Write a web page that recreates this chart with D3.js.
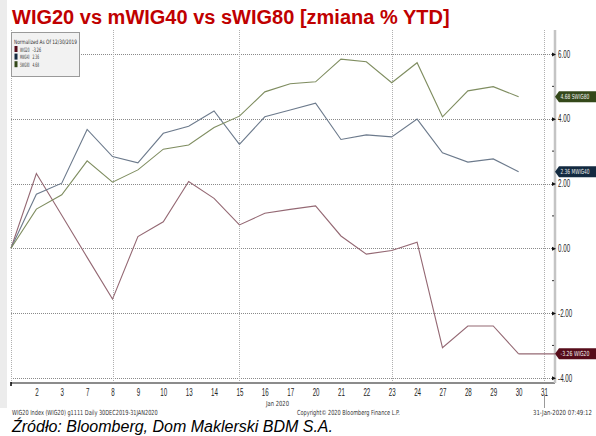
<!DOCTYPE html>
<html>
<head>
<meta charset="utf-8">
<script src="https://cdn.jsdelivr.net/npm/d3@7"></script>
<style>
  body { margin: 0; background: #fff; }
  svg { display: block; font-family: "DejaVu Sans Condensed", "DejaVu Sans", sans-serif; }
</style>
</head>
<body>
<svg id="chart" width="596" height="436"></svg>
<script>
// trading days, 30 Dec 2019 .. 31 Jan 2020
const days = ["30", "2", "3", "7", "8", "9", "10", "13", "14", "15", "16", "17",
  "20", "21", "22", "23", "24", "27", "28", "29", "30", "31"];
const gridDays = [0, 4, 9, 15, 21];

// % change YTD, normalized as of 12/30/2019
const wig20 = [0, 2.31, 1.02, -0.28, -1.57, 0.36, 0.82, 2.06, 1.54, 0.72, 1.08, 1.2,
  1.31, 0.38, -0.18, -0.07, 0.19, -3.07, -2.40, -2.40, -3.26];
const mwig40 = [0, 1.67, 2.01, 3.67, 2.83, 2.64, 3.55, 3.77, 4.24, 3.21, 4.06, 4.27,
  4.48, 3.36, 3.50, 3.44, 3.99, 2.95, 2.66, 2.76, 2.36];
const swig80 = [0, 1.21, 1.65, 2.70, 2.04, 2.42, 3.06, 3.19, 3.73, 4.08, 4.83, 5.08,
  5.14, 5.84, 5.76, 5.11, 5.73, 4.06, 4.86, 4.99, 4.68];

const seriesNames = ["WIG20", "MWIG40", "SWIG80"];
const lastValues = ["-3.26", "2.36", "4.68"];
const majorTicks = [-4, -2, 0, 2, 4, 6];
const minorTicks = [-3, -1, 1, 3, 5];

const series = [
  {name: "WIG20", values: wig20, line: "#946873", dark: "#560c1a"},
  {name: "MWIG40", values: mwig40, line: "#6c7a8c", dark: "#132a40"},
  {name: "SWIG80", values: swig80, line: "#7f8d60", dark: "#34481a"}
];

const svg = d3.select("#chart");
const plot = {left: 11, right: 555, top: 30, bottom: 383};

// squeezed Bloomberg-style small text: scaled horizontally to a given width
function narrow(parent, tx, ty, w, s, size, fill) {
  const g = parent.append("g").attr("transform", `translate(${tx},${ty})`);
  const t = g.append("text")
    .style("font-size", size + "px")
    .style("fill", fill || "#333")
    .text(s);
  const len = t.node().getComputedTextLength();
  t.attr("transform", `scale(${w / len},1)`);
  return g;
}

// light strip on the left edge
svg.append("rect")
  .attr("x", 0).attr("y", 0)
  .attr("width", 7).attr("height", 408)
  .attr("fill", "#ececec");

// title
svg.append("text")
  .attr("x", 12)
  .attr("y", 24)
  .style("font-family", "'Liberation Sans', Arial, sans-serif")
  .style("font-size", "20px")
  .style("font-weight", "bold")
  .style("fill", "#c00000")
  .text("WIG20 vs mWIG40 vs sWIG80 [zmiana % YTD]");

const x = d3.scalePoint()
  .domain(d3.range(days.length))
  .range([11, 544]);

const y = d3.scaleLinear()
  .domain([-4.16, 6.74])
  .range([plot.bottom, plot.top]);

// gridlines
const grid = svg.append("g");
grid.selectAll("line.h")
  .data(majorTicks)
  .enter()
  .append("line")
  .attr("class", "h")
  .attr("x1", plot.left)
  .attr("x2", plot.right)
  .attr("y1", d => Math.round(y(d)) + 0.5)
  .attr("y2", d => Math.round(y(d)) + 0.5)
  .attr("stroke", "#8a8a8a")
  .attr("stroke-dasharray", "1,1");

grid.selectAll("line.v")
  .data(gridDays)
  .enter()
  .append("line")
  .attr("class", "v")
  .attr("x1", d => Math.round(x(d)) + 0.5)
  .attr("x2", d => Math.round(x(d)) + 0.5)
  .attr("y1", plot.top)
  .attr("y2", plot.bottom)
  .attr("stroke", "#b0b0b0")
  .attr("stroke-dasharray", "1,1");

// bottom axis
const xAxis = svg.append("g")
  .attr("transform", `translate(0,${plot.bottom})`)
  .call(d3.axisBottom(x).tickSize(0).tickPadding(6).tickFormat(i => i === 0 ? "" : days[i]));
xAxis.select(".domain").remove();
xAxis.selectAll("text")
  .attr("transform", "scale(0.62,1)")
  .style("font-size", "10px")
  .style("fill", "#222");

svg.append("line")
  .attr("x1", plot.left).attr("x2", plot.right)
  .attr("y1", plot.bottom).attr("y2", plot.bottom)
  .attr("stroke", "#8c8c8c")
  .attr("stroke-width", 2);
svg.append("line")
  .attr("x1", plot.left).attr("x2", plot.left)
  .attr("y1", plot.bottom - 1).attr("y2", plot.bottom + 3)
  .attr("stroke", "#000")
  .attr("stroke-width", 1.5);
svg.append("line")
  .attr("x1", x(21) + 0.5).attr("x2", x(21) + 0.5)
  .attr("y1", 394).attr("y2", 408)
  .attr("stroke", "#9a9a9a");

// right axis
svg.append("line")
  .attr("x1", plot.right).attr("x2", plot.right)
  .attr("y1", plot.top).attr("y2", plot.bottom)
  .attr("stroke", "#c4c4c4")
  .attr("stroke-width", 2.5);

const yAxis = svg.append("g")
  .attr("transform", `translate(${plot.right},0)`)
  .call(d3.axisRight(y).tickValues(majorTicks).tickSize(0).tickPadding(5).tickFormat(d => d.toFixed(2)));
yAxis.select(".domain").remove();
yAxis.selectAll("text")
  .attr("transform", "scale(0.62,1)")
  .style("font-size", "10px")
  .style("fill", "#222");
yAxis.selectAll(".tick")
  .append("path")
  .attr("d", "M-3,-2L1,0L-3,2Z")
  .attr("fill", "#111");

svg.append("g")
  .selectAll("line")
  .data(minorTicks)
  .enter()
  .append("line")
  .attr("x1", plot.right - 3)
  .attr("x2", plot.right - 1)
  .attr("y1", d => y(d))
  .attr("y2", d => y(d))
  .attr("stroke", "#333");

// lines
const line = d3.line()
  .x((d, i) => x(i))
  .y(d => y(d));

svg.append("g")
  .selectAll("path")
  .data(series)
  .enter()
  .append("path")
  .attr("d", d => line(d.values))
  .attr("fill", "none")
  .attr("stroke", d => d.line)
  .attr("stroke-width", 1.1);

// WIG20 leader to its tag
svg.append("line")
  .attr("x1", x(wig20.length - 1))
  .attr("x2", plot.right)
  .attr("y1", y(wig20[wig20.length - 1]))
  .attr("y2", y(wig20[wig20.length - 1]))
  .attr("stroke", series[0].line)
  .attr("stroke-width", 1.1);

// right-hand value tags
series.forEach((d, i) => {
  const ty = y(d.values[d.values.length - 1]);
  svg.append("path")
    .attr("transform", `translate(${plot.right},${ty})`)
    .attr("d", "M0,0L4,-5.5H41V5.5H4Z")
    .attr("fill", d.dark);
  narrow(svg, plot.right + 5.5, ty + 2.5, 29, `${lastValues[i]}  ${d.name}`, 7, "#f0f0f0");
});

// legend
svg.append("rect")
  .attr("x", 11.5).attr("y", 32.5)
  .attr("width", 68).attr("height", 44)
  .attr("fill", "#f2f2f2")
  .attr("stroke", "#9a9a9a");

narrow(svg, 14, 44, 63, "Normalized As Of 12/30/2019", 6);

series.forEach((d, i) => {
  const ry = 49.5 + i * 7.6;
  svg.append("rect")
    .attr("x", 14.5).attr("y", ry - 3.5)
    .attr("width", 3).attr("height", 6)
    .attr("fill", d.dark);
  narrow(svg, 20, ry + 2, 9.5, seriesNames[i], 6);
  narrow(svg, 32.5, ry + 2, i === 0 ? 8.5 : 6.5, lastValues[i], 6);
});

// footer
narrow(svg, 266, 406, 23, "Jan 2020", 7);
narrow(svg, 12, 415, 146, "WIG20 Index (WIG20) g1111  Daily 30DEC2019-31JAN2020", 7);
narrow(svg, 297, 415, 103, "Copyright\u00a9 2020 Bloomberg Finance L.P.", 7);
narrow(svg, 533, 415, 59, "31-Jan-2020 07:49:12", 7);

svg.append("text")
  .attr("x", 12)
  .attr("y", 432)
  .style("font-family", "'Liberation Sans', Arial, sans-serif")
  .style("font-size", "16px")
  .style("font-style", "italic")
  .style("fill", "#000")
  .text("Źródło: Bloomberg, Dom Maklerski BDM S.A.");
</script>
</body>
</html>
